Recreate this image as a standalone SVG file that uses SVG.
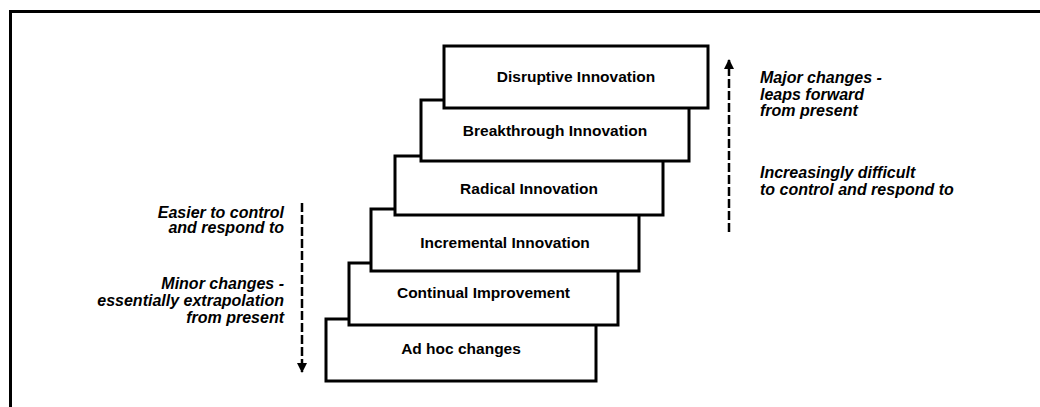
<svg xmlns="http://www.w3.org/2000/svg" width="1040" height="407" viewBox="0 0 1040 407">
<style>
.box{fill:#fff;stroke:#000;stroke-width:3}
.lbl{font-family:"Liberation Sans",Arial,sans-serif;font-weight:bold;font-size:15.5px;fill:#000;text-anchor:middle}
.note{font-family:"Liberation Sans",Arial,sans-serif;font-weight:bold;font-style:italic;font-size:16px;fill:#000}
.conn{stroke:#000;stroke-width:2.5;fill:none;stroke-dasharray:9 3}
</style>
<defs>
<marker id="ah" viewBox="0 0 10 10" refX="9" refY="5" markerWidth="4" markerHeight="4" orient="auto" markerUnits="strokeWidth">
<path d="M0,0 L10,5 L0,10 z" fill="#000"/>
</marker>
</defs>
<rect width="1040" height="407" fill="#fff"/>
<path d="M10.5,407 V11.5 H1040" fill="none" stroke="#000" stroke-width="3"/>
<g id="adhoc"><rect class="box" x="326" y="319" width="270" height="62"/><text class="lbl" x="461" y="354">Ad hoc changes</text></g>
<g id="continual"><rect class="box" x="349" y="263" width="269" height="62"/><text class="lbl" x="483.5" y="298">Continual Improvement</text></g>
<g id="incremental"><rect class="box" x="371" y="209" width="268" height="62"/><text class="lbl" x="505" y="248">Incremental Innovation</text></g>
<g id="radical"><rect class="box" x="395" y="156" width="268" height="59"/><text class="lbl" x="529" y="194">Radical Innovation</text></g>
<g id="breakthrough"><rect class="box" x="421" y="100" width="268" height="61"/><text class="lbl" x="555" y="136">Breakthrough Innovation</text></g>
<g id="disruptive"><rect class="box" x="444" y="46" width="264" height="62"/><text class="lbl" x="576" y="82">Disruptive Innovation</text></g>
<g id="connectors">
<line class="conn" x1="302" y1="203" x2="302" y2="372" marker-end="url(#ah)"/>
<line class="conn" x1="729" y1="232" x2="729" y2="60" marker-end="url(#ah)"/>
</g>
<g id="notes-left">
<text class="note" x="284" y="218" text-anchor="end">Easier to control</text>
<text class="note" x="284" y="233" text-anchor="end">and respond to</text>
<text class="note" x="284" y="289" text-anchor="end">Minor changes -</text>
<text class="note" x="284" y="306" text-anchor="end">essentially extrapolation</text>
<text class="note" x="284" y="323" text-anchor="end">from present</text>
</g>
<g id="notes-right">
<text class="note" x="760" y="83">Major changes -</text>
<text class="note" x="760" y="100">leaps forward</text>
<text class="note" x="760" y="116">from present</text>
<text class="note" x="760" y="178">Increasingly difficult</text>
<text class="note" x="760" y="195">to control and respond to</text>
</g>
</svg>
